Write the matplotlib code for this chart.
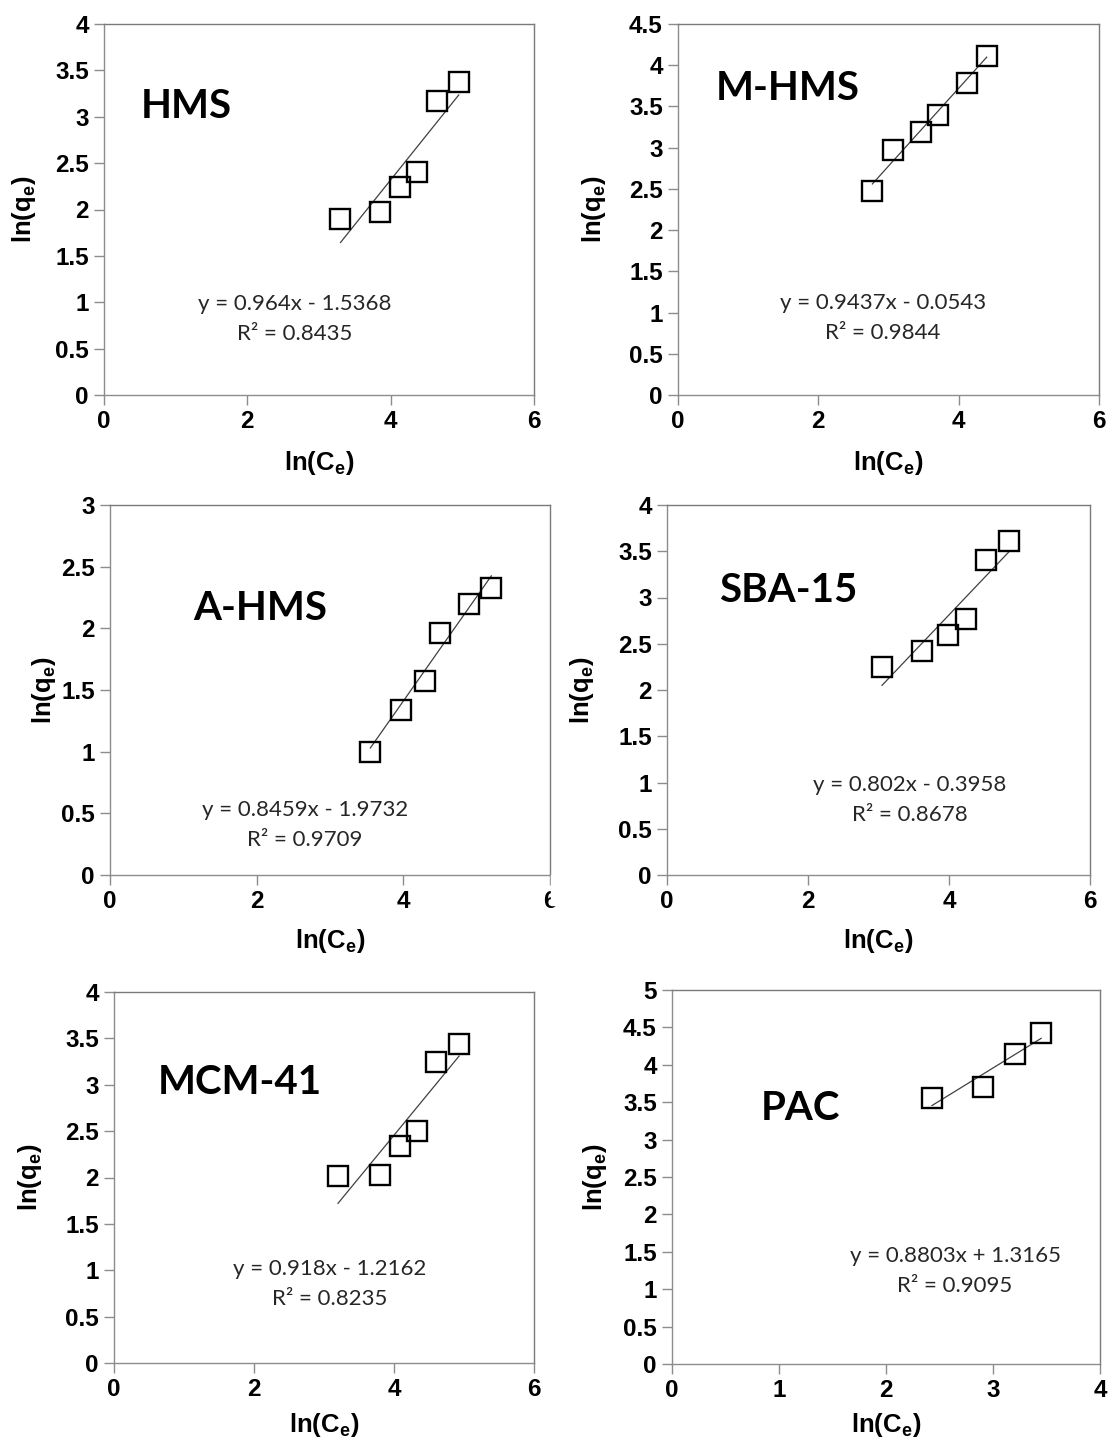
import numpy as np
import matplotlib
matplotlib.use("Agg")
import matplotlib.pyplot as plt
from matplotlib.ticker import MultipleLocator, FuncFormatter
from matplotlib.patches import Rectangle

plt.rcParams['font.family'] = ['Liberation Sans', 'DejaVu Sans']
plt.rcParams['mathtext.fontset'] = 'custom'
plt.rcParams['mathtext.rm'] = 'Liberation Sans:bold'
plt.rcParams['mathtext.it'] = 'Liberation Sans:bold'
plt.rcParams['mathtext.bf'] = 'Liberation Sans:bold'

# ln(Ce), ln(qe)
names = ["HMS", "M-HMS", "A-HMS", "SBA-15", "MCM-41", "PAC"]
x_hms = [3.30, 3.85, 4.13, 4.37, 4.65, 4.95]
y_hms = [1.90, 1.97, 2.24, 2.40, 3.17, 3.38]
x_mhms = [2.77, 3.07, 3.47, 3.71, 4.12, 4.40]
y_mhms = [2.48, 2.97, 3.19, 3.40, 3.79, 4.11]
x_ahms = [3.55, 3.97, 4.30, 4.50, 4.90, 5.20]
y_ahms = [1.00, 1.34, 1.57, 1.96, 2.20, 2.33]
x_sba = [3.05, 3.62, 3.98, 4.24, 4.52, 4.85]
y_sba = [2.25, 2.42, 2.59, 2.77, 3.41, 3.61]
x_mcm = [3.20, 3.80, 4.08, 4.33, 4.60, 4.93]
y_mcm = [2.02, 2.03, 2.34, 2.50, 3.25, 3.44]
x_pac = [2.43, 2.91, 3.21, 3.45]
y_pac = [3.55, 3.70, 4.14, 4.43]

# fitted trendlines (slope, intercept, R2) as printed
slopes = [0.964, 0.9437, 0.8459, 0.802, 0.918, 0.8803]
intercepts = [-1.5368, -0.0543, -1.9732, -0.3958, -1.2162, 1.3165]
r2 = ["0.8435", "0.9844", "0.9709", "0.8678", "0.8235", "0.9095"]
eq_text = ["y = 0.964x - 1.5368", "y = 0.9437x - 0.0543", "y = 0.8459x - 1.9732",
           "y = 0.802x - 0.3958", "y = 0.918x - 1.2162", "y = 0.8803x + 1.3165"]

xs = [x_hms, x_mhms, x_ahms, x_sba, x_mcm, x_pac]
ys = [y_hms, y_mhms, y_ahms, y_sba, y_mcm, y_pac]
xmax = [6, 6, 6, 6, 6, 4]
xstep = [2, 2, 2, 2, 2, 1]
ymax = [4, 4.5, 3, 4, 4, 5]

W, H = 1110, 1445
# axes boxes in pixels: left, right, top, bottom
boxes = [(104, 534, 24, 395), (678, 1099, 24, 395),
         (110, 550, 505, 875), (667, 1090, 505, 875),
         (114, 534, 992, 1363), (672, 1100, 990, 1364)]
# label centres in pixels: ylabel x, xlabel y
ylab_x = [24, 594, 44, 582, 30, 595]
xlab_y = [463, 463, 941, 941, 1425, 1425]
# title and equation centres in pixels
title_pos = [(186, 106), (788, 88), (260, 608), (788, 590), (240, 1083), (800, 1108)]
eq_pos = [(295, 304), (883, 303), (305, 810), (910, 785), (330, 1269), (955, 1256)]

fig = plt.figure(figsize=(W / 100, H / 100), dpi=100)
grey = '#8c8c8c'

def fmt(v, pos):
    return '%g' % v

for i in range(6):
    l, r, t, b = boxes[i]
    ax = fig.add_axes([l / W, (H - b) / H, (r - l) / W, (b - t) / H])
    x = np.array(xs[i])
    y = np.array(ys[i])
    xl = np.array([x.min(), x.max()])
    ax.plot(xl, slopes[i] * xl + intercepts[i], color='#404040', lw=0.9, zorder=2)
    ax.plot(x, y, 's', ms=15, mfc='none', mec='black', mew=1.7, zorder=3, clip_on=False)
    ax.set_xlim(0, xmax[i])
    ax.set_ylim(0, ymax[i])
    ax.xaxis.set_major_locator(MultipleLocator(xstep[i]))
    ax.yaxis.set_major_locator(MultipleLocator(0.5))
    ax.xaxis.set_major_formatter(FuncFormatter(fmt))
    ax.yaxis.set_major_formatter(FuncFormatter(fmt))
    for k, s in ax.spines.items():
        s.set_color(grey if k in ('left', 'bottom') else '#7a7a7a')
        s.set_linewidth(1.0)
    ax.tick_params(direction='out', length=7, width=1, color=grey,
                   labelsize=17.5, pad=4)
    for lab in ax.get_xticklabels() + ax.get_yticklabels():
        lab.set_fontweight('bold')
    ax.set_xlabel(r'ln(C$_\mathrm{e}$)', fontsize=18.5, fontweight='bold')
    ax.set_ylabel(r'ln(q$_\mathrm{e}$)', fontsize=18.5, fontweight='bold')
    ax.xaxis.set_label_coords(0.5, (b - xlab_y[i]) / (b - t))
    ax.yaxis.set_label_coords((ylab_x[i] - l) / (r - l), 0.5)
    ax.xaxis.label.set_va('center')
    ax.yaxis.label.set_va('center')

    tx, ty = title_pos[i]
    fig.text(tx / W, (H - ty) / H, names[i], family='Lato', fontweight='bold',
             fontsize=29, ha='center', va='center')
    ex, ey = eq_pos[i]
    fig.text(ex / W, (H - ey) / H, eq_text[i], family='Lato', fontsize=16,
             ha='center', va='center', color='#262626')
    fig.text(ex / W, (H - ey - 30) / H, 'R² = ' + r2[i], family='Lato', fontsize=16,
             ha='center', va='center', color='#262626')

# the A-HMS picture was cropped just past its last tick label
fig.patches.append(Rectangle((551 / W, (H - 905) / H), 40 / W, 30 / H,
                             transform=fig.transFigure, color='white', zorder=10))

fig.savefig('out.png', dpi=100, facecolor='white')
